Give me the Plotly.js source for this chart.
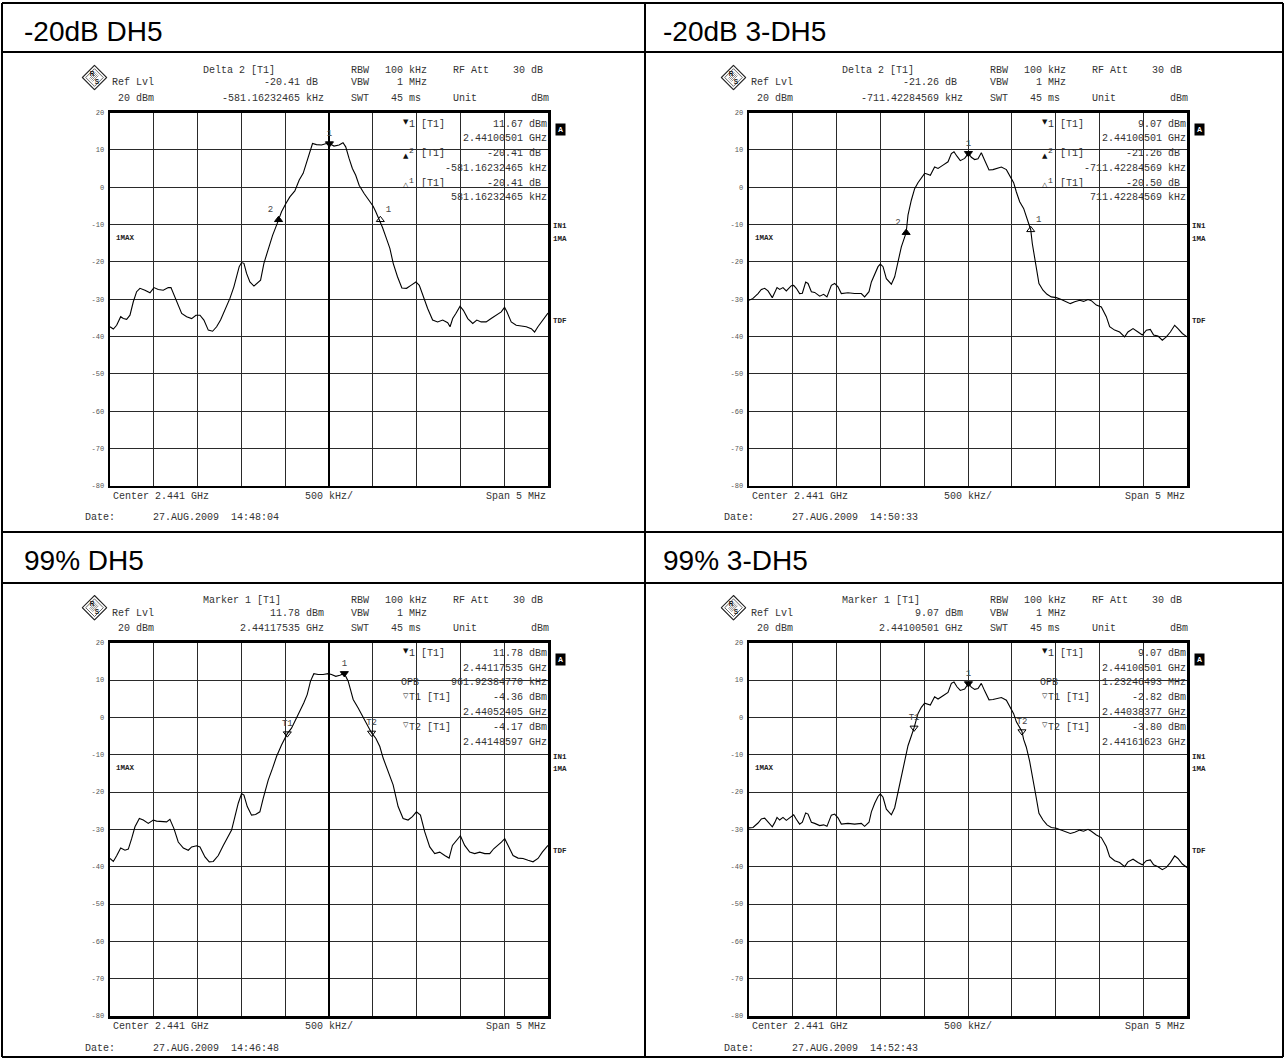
<!DOCTYPE html>
<html><head><meta charset="utf-8">
<script src="https://cdn.plot.ly/plotly-3.0.1.min.js"></script>
<style>html,body{margin:0;padding:0;background:#fff;}#chart{width:1285px;height:1059px;}</style>
</head><body><div id="chart"></div>
<script>
// ---------------- DATA ----------------
const PANEL_TITLES = ['-20dB DH5', '-20dB 3-DH5', '99% DH5', '99% 3-DH5'];
const Y_TICKS = [20, 10, 0, -10, -20, -30, -40, -50, -60, -70, -80];
const Y_TICK_TEXT = ['20', '10', '0', '-10', '-20', '-30', '-40', '-50', '-60', '-70', '-80'];

// frequency offset from centre (MHz), level (dBm)
const FREQ_TL = [-2.500,-2.462,-2.424,-2.378,-2.348,-2.310,-2.272,-2.234,-2.196,-2.158,
-2.101,-2.044,-1.998,-1.949,-1.892,-1.835,-1.804,-1.759,-1.721,-1.682,
-1.625,-1.568,-1.519,-1.473,-1.428,-1.378,-1.329,-1.283,-1.238,-1.188,
-1.131,-1.086,-1.055,-1.025,-0.998,-0.971,-0.941,-0.903,-0.857,-0.819,
-0.781,-0.743,-0.694,-0.644,-0.591,-0.542,-0.492,-0.447,-0.390,-0.340,
-0.295,-0.257,-0.219,-0.188,-0.143,-0.086,-0.029,0.005,0.057,0.115,
0.160,0.191,0.229,0.267,0.305,0.344,0.401,0.458,0.504,0.534,
0.573,0.611,0.649,0.695,0.733,0.782,0.832,0.885,0.935,0.992,
1.031,1.076,1.126,1.183,1.240,1.298,1.355,1.382,1.412,1.450,
1.496,1.534,1.584,1.641,1.687,1.737,1.794,1.851,1.908,1.966,
2.004,2.031,2.080,2.137,2.195,2.252,2.309,2.347,2.385,2.424,
2.462,2.500];
const LEVEL_TL = [-37.4,-38.0,-37.0,-34.7,-35.2,-35.4,-34.3,-30.7,-28.0,-27.1,
-27.6,-28.3,-26.9,-27.4,-27.6,-26.9,-26.9,-29.4,-31.6,-33.8,
-34.7,-35.2,-34.3,-34.3,-35.6,-38.3,-38.6,-37.4,-35.6,-32.9,
-29.8,-26.7,-23.6,-21.3,-20.2,-20.4,-23.1,-25.4,-26.5,-25.8,
-24.9,-20.4,-16.4,-12.9,-9.7,-6.6,-4.4,-2.6,-1.0,1.9,
3.7,6.8,9.5,11.7,11.4,11.3,11.7,11.67,11.0,11.3,
11.9,10.8,7.7,5.0,3.2,0.5,-1.7,-3.5,-5.1,-6.6,
-8.5,-10.8,-13.3,-16.4,-20.4,-24.0,-27.0,-27.1,-26.3,-25.4,
-26.3,-29.4,-32.5,-35.6,-36.1,-35.6,-36.3,-37.4,-35.2,-33.8,
-31.9,-33.0,-35.2,-36.5,-35.6,-36.1,-36.1,-35.2,-34.3,-33.4,
-32.2,-33.4,-36.1,-37.0,-37.2,-37.4,-37.9,-38.8,-37.4,-36.1,
-34.7,-33.7];

const FREQ_TR = [-2.500,-2.454,-2.397,-2.359,-2.321,-2.283,-2.234,-2.207,-2.180,-2.150,
-2.112,-2.074,-2.017,-1.990,-1.960,-1.922,-1.891,-1.853,-1.826,-1.788,
-1.750,-1.693,-1.648,-1.610,-1.560,-1.522,-1.484,-1.446,-1.370,-1.294,
-1.218,-1.180,-1.130,-1.103,-1.065,-1.027,-1.001,-0.970,-0.932,-0.875,
-0.837,-0.799,-0.761,-0.706,-0.685,-0.647,-0.609,-0.571,-0.533,-0.495,
-0.468,-0.430,-0.381,-0.342,-0.285,-0.228,-0.190,-0.160,-0.126,-0.088,
-0.038,0.005,0.038,0.076,0.114,0.152,0.190,0.240,0.285,0.342,
0.381,0.438,0.483,0.521,0.552,0.590,0.635,0.666,0.716,0.734,
0.772,0.810,0.856,0.902,0.951,1.008,1.065,1.123,1.168,1.218,
1.275,1.320,1.370,1.408,1.465,1.522,1.579,1.617,1.674,1.731,
1.788,1.826,1.884,1.941,1.990,2.036,2.081,2.119,2.169,2.218,
2.264,2.310,2.359,2.397,2.447,2.500];
const LEVEL_TR = [-30.3,-29.8,-28.5,-27.4,-27.1,-27.8,-29.6,-28.4,-26.9,-27.4,
-26.9,-27.8,-26.4,-26.3,-27.1,-28.5,-28.4,-25.4,-25.8,-28.0,
-28.2,-29.2,-28.7,-29.4,-26.3,-25.8,-26.7,-28.5,-28.3,-28.5,
-28.5,-29.4,-28.0,-25.4,-23.1,-21.3,-20.6,-21.3,-24.5,-26.0,
-24.0,-19.6,-16.0,-12.2,-7.5,-3.5,-0.4,1.2,2.6,3.7,
3.5,3.2,5.4,5.0,5.9,6.8,9.0,9.5,8.3,7.1,
7.7,9.07,8.0,7.4,7.6,9.2,7.2,4.6,4.7,5.0,
5.4,4.7,2.8,1.2,-1.3,-3.9,-5.7,-7.9,-11.4,-15.1,
-20.4,-25.8,-27.6,-28.7,-29.4,-29.6,-30.1,-30.7,-31.2,-30.7,
-30.3,-30.6,-30.1,-30.4,-31.6,-32.1,-34.7,-37.4,-38.3,-38.8,
-40.1,-38.8,-37.9,-38.8,-39.6,-38.3,-38.1,-39.6,-39.9,-41.0,
-40.1,-38.8,-37.0,-37.9,-39.2,-40.1];

const FREQ_BL = [-2.500,-2.462,-2.424,-2.378,-2.329,-2.291,-2.253,-2.215,-2.165,-2.120,
-2.063,-2.006,-1.968,-1.911,-1.854,-1.816,-1.770,-1.721,-1.663,-1.606,
-1.568,-1.511,-1.473,-1.416,-1.367,-1.321,-1.264,-1.207,-1.162,-1.112,
-1.074,-1.036,-0.998,-0.971,-0.933,-0.884,-0.838,-0.789,-0.751,-0.694,
-0.644,-0.599,-0.542,-0.476,-0.428,-0.378,-0.333,-0.287,-0.249,-0.211,
-0.173,-0.124,-0.067,-0.010,0.029,0.078,0.124,0.175,0.219,0.276,
0.333,0.382,0.428,0.486,0.534,0.580,0.618,0.675,0.732,0.789,
0.846,0.903,0.952,0.998,1.044,1.093,1.150,1.207,1.264,1.321,
1.371,1.409,1.454,1.500,1.549,1.606,1.663,1.721,1.778,1.835,
1.880,1.930,1.968,2.006,2.044,2.101,2.158,2.215,2.272,2.329,
2.386,2.435,2.500];
const LEVEL_BL = [-37.8,-38.6,-37.1,-35.0,-35.6,-35.3,-32.5,-29.3,-27.1,-27.5,
-28.4,-27.5,-27.8,-27.8,-28.0,-27.3,-29.8,-33.4,-35.0,-35.6,
-34.7,-34.4,-34.7,-37.4,-38.7,-38.6,-37.0,-34.3,-32.5,-30.2,
-26.6,-23.0,-20.4,-20.8,-23.9,-26.2,-26.0,-25.3,-21.7,-16.8,
-13.6,-10.5,-7.4,-4.36,-2.9,-0.6,1.6,3.9,6.1,9.7,
11.7,11.5,11.5,11.7,11.5,11.0,11.3,11.78,9.7,4.8,
2.5,0.3,-1.5,-4.17,-5.6,-7.8,-10.9,-14.5,-18.1,-23.9,
-27.1,-27.5,-26.6,-25.3,-26.2,-30.7,-34.7,-36.5,-36.1,-37.0,
-37.7,-34.3,-32.9,-31.7,-34.3,-36.1,-36.5,-36.1,-36.5,-36.5,
-35.2,-34.3,-33.4,-32.5,-34.3,-37.0,-37.7,-37.8,-38.3,-38.7,
-37.8,-36.1,-34.3];

const FREQ_BR = [-2.500,-2.454,-2.397,-2.359,-2.321,-2.283,-2.234,-2.207,-2.180,-2.150,
-2.112,-2.074,-2.017,-1.990,-1.960,-1.922,-1.891,-1.853,-1.826,-1.788,
-1.750,-1.693,-1.648,-1.610,-1.560,-1.522,-1.484,-1.446,-1.370,-1.294,
-1.218,-1.180,-1.130,-1.103,-1.065,-1.027,-1.001,-0.970,-0.932,-0.875,
-0.837,-0.799,-0.761,-0.723,-0.685,-0.647,-0.616,-0.571,-0.533,-0.495,
-0.468,-0.430,-0.381,-0.342,-0.285,-0.228,-0.190,-0.160,-0.126,-0.088,
-0.038,0.005,0.038,0.076,0.114,0.152,0.190,0.240,0.285,0.342,
0.381,0.438,0.483,0.521,0.552,0.616,0.635,0.666,0.704,0.734,
0.772,0.810,0.856,0.902,0.951,1.008,1.065,1.123,1.168,1.218,
1.275,1.320,1.370,1.408,1.465,1.522,1.579,1.617,1.674,1.731,
1.788,1.826,1.884,1.941,1.990,2.036,2.081,2.119,2.169,2.218,
2.264,2.310,2.359,2.397,2.447,2.500];
const LEVEL_BR = [-29.6,-29.5,-28.3,-27.2,-27.0,-27.9,-29.3,-28.2,-26.8,-27.5,
-26.8,-27.6,-26.6,-26.1,-27.3,-28.6,-28.1,-25.6,-25.9,-28.1,
-28.4,-29.0,-28.8,-29.2,-26.2,-25.9,-26.9,-28.6,-28.4,-28.6,
-28.4,-29.2,-28.1,-25.3,-23.0,-21.2,-20.5,-21.4,-24.6,-26.1,
-24.2,-19.8,-15.8,-11.4,-7.6,-5.0,-2.82,1.0,2.7,3.8,
3.6,3.3,5.5,4.9,5.8,6.7,9.1,9.5,8.2,7.2,
7.6,9.07,8.1,7.5,7.7,9.1,7.1,4.7,4.8,5.1,
5.3,4.6,2.7,1.0,-1.2,-3.8,-5.9,-8.0,-11.8,-15.3,
-20.6,-25.7,-27.5,-28.8,-29.5,-29.7,-30.2,-30.6,-31.1,-30.8,
-30.2,-30.5,-30.0,-30.5,-31.5,-32.2,-34.6,-37.3,-38.4,-38.9,
-40.0,-38.7,-38.0,-38.9,-39.5,-38.4,-38.2,-39.5,-40.0,-40.8,
-40.2,-38.9,-37.1,-37.8,-39.3,-40.2];

// markers: frequency offset (MHz), level, label
const MK_F = [[0.005, -0.576, 0.586], [0.005, -0.706, 0.716], [0.175, -0.476, 0.486], [0.005, -0.616, 0.616]];
const MK_L = [[11.67, -8.74, -8.74], [9.07, -12.19, -11.43], [11.78, -4.36, -4.17], [9.07, -2.82, -3.80]];
const MK_LABEL = [['1', '2', '1'], ['1', '2', '1'], ['1', 'T1', 'T2'], ['1', 'T1', 'T2']];

const HEAD_TITLE = ['Delta 2 [T1]', 'Delta 2 [T1]', 'Marker 1 [T1]', 'Marker 1 [T1]'];
const HEAD_VAL1 = ['-20.41 dB ', '-21.26 dB ', '11.78 dBm', '9.07 dBm'];
const HEAD_VAL2 = ['-581.16232465 kHz', '-711.42284569 kHz', '2.44117535 GHz', '2.44100501 GHz'];
const SETUP_LABELS = ['RBW', 'VBW', 'SWT'];
const SETUP_VALUES = ['100 kHz', '1 MHz', '45 ms '];
const DATES = ['27.AUG.2009  14:48:04', '27.AUG.2009  14:50:33', '27.AUG.2009  14:46:48', '27.AUG.2009  14:52:43'];

// marker table: glyph, label, value per row
const TABLE_GLYPHS = [
  ['▼', '', '▲', '', '△', ''],
  ['▼', '', '▲', '', '△', ''],
  ['▼', '', '', '▽', '', '▽', ''],
  ['▼', '', '', '▽', '', '▽', '']
];
const TABLE_LABELS = [
  ['1 [T1]', '', '2 [T1]', '', '1 [T1]', ''],
  ['1 [T1]', '', '2 [T1]', '', '1 [T1]', ''],
  ['1 [T1]', '', 'OPB', 'T1 [T1]', '', 'T2 [T1]', ''],
  ['1 [T1]', '', 'OPB', 'T1 [T1]', '', 'T2 [T1]', '']
];
const TABLE_VALUES = [
  ['11.67 dBm', '2.44100501 GHz', '-20.41 dB ', '-581.16232465 kHz', '-20.41 dB ', '581.16232465 kHz'],
  ['9.07 dBm', '2.44100501 GHz', '-21.26 dB ', '-711.42284569 kHz', '-20.50 dB ', '711.42284569 kHz'],
  ['11.78 dBm', '2.44117535 GHz', '961.92384770 kHz', '-4.36 dBm', '2.44052405 GHz', '-4.17 dBm', '2.44148597 GHz'],
  ['9.07 dBm', '2.44100501 GHz', '1.23246493 MHz', '-2.82 dBm', '2.44038377 GHz', '-3.80 dBm', '2.44161623 GHz']
];

// ---------------- LAYOUT ----------------
const W = 1285, H = 1059, PW = 438, PH = 373.3;
const ORIGINS = [[110, 112.5], [749, 112.5], [110, 642.7], [749, 642.7]];
const TITLE_POS = [[23, 31], [662, 31], [23, 560], [662, 560]];
const MONO = 'Liberation Mono, Courier New, monospace';
const SANS = 'Liberation Sans, Arial, Helvetica, sans-serif';
const TXT = '#333';

const nb = s => s.replace(/ /g, '\u00a0');
const px = x => x / W, py = y => 1 - y / H;

const data = [], anns = [], shapes = [], images = [];
const layout = {
  width: W, height: H, margin: {l: 0, r: 0, t: 0, b: 0},
  paper_bgcolor: '#fff', plot_bgcolor: '#fff', showlegend: false,
  annotations: anns, shapes: shapes, images: images
};

function ann(x, y, text, xa, font, extra) {
  anns.push(Object.assign({
    xref: 'paper', yref: 'paper', x: px(x), y: py(y), text: text,
    xanchor: xa, yanchor: 'middle', showarrow: false, borderpad: 0,
    font: font || {family: MONO, size: 10, color: TXT}
  }, extra || {}));
}

const logoSvg = "<svg xmlns='http://www.w3.org/2000/svg' width='52' height='52' viewBox='0 0 26 26'>" +
  "<polygon points='13,0.8 25.2,13 13,25.2 0.8,13' fill='#fff' stroke='#222' stroke-width='1.1'/>" +
  "<polygon points='13,4.2 21.8,13 13,21.8 4.2,13' fill='none' stroke='#222' stroke-width='0.7'/>" +
  "<g stroke='#444' stroke-width='0.6'>" +
  "<line x1='9' y1='15' x2='15' y2='9'/><line x1='10' y1='16' x2='16' y2='10'/><line x1='11' y1='17' x2='17' y2='11'/>" +
  "<line x1='8' y1='14' x2='14' y2='8'/></g>" +
  "<text x='8.2' y='11.5' font-family='Liberation Sans' font-size='6.5' font-weight='bold' fill='#111'>R</text>" +
  "<text x='13.3' y='19.6' font-family='Liberation Sans' font-size='6.5' font-weight='bold' fill='#111'>S</text>" +
  "</svg>";
const logoUri = 'data:image/svg+xml;charset=utf-8,' + encodeURIComponent(logoSvg);

const TRACE_F = [FREQ_TL, FREQ_TR, FREQ_BL, FREQ_BR];
const TRACE_L = [LEVEL_TL, LEVEL_TR, LEVEL_BL, LEVEL_BR];

for (let i = 0; i < 4; i++) {
  const [x0, y0] = ORIGINS[i];
  const sfx = i === 0 ? '' : String(i + 1);
  const isDelta = i < 2;
  layout['xaxis' + sfx] = {
    domain: [px(x0), px(x0 + PW)], anchor: 'y' + sfx,
    range: [-2.5, 2.5], tick0: -2.5, dtick: 0.5,
    showgrid: true, gridcolor: '#2a2a2a', gridwidth: 1,
    zeroline: (i === 0 || i === 2), zerolinecolor: '#000', zerolinewidth: 2.2,
    showticklabels: false, ticks: '',
    showline: true, mirror: true, linecolor: '#000', linewidth: 2.5, fixedrange: true
  };
  layout['yaxis' + sfx] = {
    domain: [py(y0 + PH), py(y0)], anchor: 'x' + sfx,
    range: [-80, 20], tickmode: 'array', tickvals: Y_TICKS, ticktext: Y_TICK_TEXT,
    showgrid: true, gridcolor: '#2a2a2a', gridwidth: 1, zeroline: false,
    ticks: '', ticklabelstandoff: 2,
    tickfont: {family: MONO, size: 7, color: '#555'},
    showline: true, mirror: true, linecolor: '#000', linewidth: 2.5, fixedrange: true
  };
  data.push({
    type: 'scatter', mode: 'lines', x: TRACE_F[i], y: TRACE_L[i],
    xaxis: 'x' + sfx, yaxis: 'y' + sfx,
    line: {color: '#000', width: 1.1}, hoverinfo: 'skip'
  });
  const syms = isDelta ? ['triangle-down', 'triangle-up', 'triangle-up-open'] : ['triangle-down', 'triangle-down-open', 'triangle-down-open'];
  const tpos = isDelta ? ['top center', 'top left', 'top right'] : ['top center', 'top center', 'top center'];
  data.push({
    type: 'scatter', mode: 'markers+text', x: MK_F[i], y: MK_L[i], text: MK_LABEL[i],
    textposition: tpos, xaxis: 'x' + sfx, yaxis: 'y' + sfx,
    marker: {symbol: syms, size: 7, color: '#000', line: {color: '#000', width: 1}},
    textfont: {family: MONO, size: 9, color: '#444'}, hoverinfo: 'skip', cliponaxis: false
  });

  // panel title
  ann(TITLE_POS[i][0], TITLE_POS[i][1], PANEL_TITLES[i], 'left', {family: SANS, size: 28, color: '#000'});

  // logo
  images.push({source: logoUri, xref: 'paper', yref: 'paper', x: px(x0 - 15.5), y: py(y0 - 35),
    sizex: 26 / W, sizey: 26 / H, xanchor: 'center', yanchor: 'middle', sizing: 'stretch', layer: 'above'});

  // header
  const r1 = y0 - 42.5, r2 = y0 - 29.5, r3 = y0 - 14.5;
  ann(x0 + 1, r2, nb('Ref Lvl'), 'left');
  ann(x0 + 7, r3, nb('20 dBm'), 'left');
  ann(x0 + 91.7, r1, nb(HEAD_TITLE[i]), 'left');
  ann(x0 + 215, r2, nb(HEAD_VAL1[i]), 'right');
  ann(x0 + 215, r3, nb(HEAD_VAL2[i]), 'right');
  [r1, r2, r3].forEach((r, k) => {
    ann(x0 + 240, r, SETUP_LABELS[k], 'left');
    ann(x0 + 318, r, nb(SETUP_VALUES[k]), 'right');
  });
  ann(x0 + 342, r1, nb('RF Att'), 'left');
  ann(x0 + 440, r1, nb('30 dB '), 'right');
  ann(x0 + 342, r3, 'Unit', 'left');
  ann(x0 + 440, r3, 'dBm', 'right');

  // marker table inside plot
  const step = 14.8, first = isDelta ? 11.5 : 10.5;
  TABLE_LABELS[i].forEach((lab, k) => {
    const yy = y0 + first + step * k;
    const g = TABLE_GLYPHS[i][k];
    if (g) {
      const up = (g === '▲' || g === '△');
      ann(x0 + 291.5, yy + (up ? 2 : -2), g, 'left', {family: 'DejaVu Sans', size: 7, color: '#111'});
      if (up) {
        ann(x0 + 298, yy - 3, lab.slice(0, 1), 'left', {family: MONO, size: 8, color: TXT});
        ann(x0 + 310, yy, nb(lab.slice(2)), 'left');
      } else {
        ann(x0 + 297.5, yy, nb(lab), 'left');
      }
    } else if (lab) {
      ann(x0 + 290, yy, nb(lab), 'left');
    }
    ann(x0 + 438, yy, nb(TABLE_VALUES[i][k]), 'right');
  });

  // side labels
  const bold7 = {family: MONO, size: 7.5, color: '#222', weight: 'bold'};
  ann(x0 + PW + 12, y0 + 16.5, 'A', 'center', {family: SANS, size: 7, color: '#fff', weight: 'bold'},
    {bgcolor: '#000', borderpad: 2});
  ann(x0 + PW + 4, y0 + 114, 'IN1', 'left', bold7);
  ann(x0 + PW + 4, y0 + 126.5, '1MA', 'left', bold7);
  ann(x0 + PW + 4, y0 + 208.5, 'TDF', 'left', bold7);
  ann(x0 + 5, y0 + 125.5, '1MAX', 'left', bold7);

  // bottom labels
  ann(x0 + 1.5, y0 + PH + 10.7, nb('Center 2.441 GHz'), 'left');
  ann(x0 + PW / 2, y0 + PH + 10.7, nb('500 kHz/'), 'center');
  ann(x0 + PW - 1, y0 + PH + 10.7, nb('Span 5 MHz'), 'right');
  ann(x0 - 26, y0 + PH + 32, 'Date:', 'left');
  ann(x0 + 41.7, y0 + PH + 32, nb(DATES[i]), 'left');
}

// table grid lines
function seg(x1, y1, x2, y2) {
  shapes.push({type: 'line', xref: 'paper', yref: 'paper', x0: px(x1), y0: py(y1), x1: px(x2), y1: py(y2),
    line: {color: '#000', width: 2}, layer: 'above'});
}
seg(2, 3, 1283, 3); seg(2, 1057, 1283, 1057);
seg(2, 3, 2, 1057); seg(1283, 3, 1283, 1057);
seg(645, 3, 645, 1057);
seg(2, 52, 1283, 52); seg(2, 532, 1283, 532); seg(2, 583, 1283, 583);

Plotly.newPlot('chart', data, layout, {staticPlot: true});
</script>
</body></html>
